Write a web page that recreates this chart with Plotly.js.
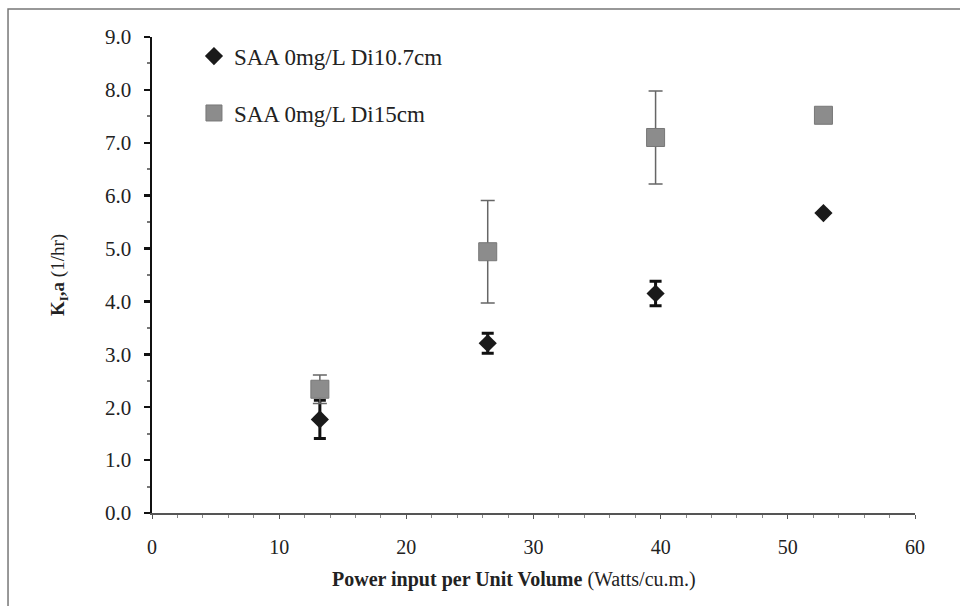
<!DOCTYPE html>
<html>
<head>
<meta charset="utf-8">
<script src="https://cdn.plot.ly/plotly-3.0.1.min.js"></script>
<style>html,body{margin:0;padding:0;background:#fff;}#chart{width:960px;height:606px;}</style>
</head>
<body>
<div id="chart"></div>
<script>
const powerInput = [13.2, 26.4, 39.6, 52.8];
const seriesNames = ["SAA 0mg/L Di10.7cm", "SAA 0mg/L Di15cm"];
const kla107 = [1.77, 3.21, 4.15, 5.67];
const err107 = [0.36, 0.19, 0.23, 0];
const kla15 = [2.34, 4.94, 7.10, 7.52];
const err15 = [0.27, 0.97, 0.88, 0];
const yTicks = [0,1,2,3,4,5,6,7,8,9];
const yTickText = ["0.0","1.0","2.0","3.0","4.0","5.0","6.0","7.0","8.0","9.0"];
const xTitle = "<b>Power input per Unit Volume</b> (Watts/cu.m.)";
const yTitle = "<b>K<sub>I</sub>,a</b> (1/hr)";

const font = "Liberation Serif, Times New Roman, serif";

const traces = [
  {
    x: powerInput, y: kla107, name: seriesNames[0], type: "scatter", mode: "markers",
    legendgroup: "a",
    marker: {symbol: "diamond", size: 14, color: "#1a1a1a", line: {width: 0}},
    error_y: {type: "data", array: err107, visible: true, color: "#111", thickness: 3, width: 6}
  },
  {
    x: powerInput, y: kla15, name: seriesNames[1], type: "scatter", mode: "markers",
    legendgroup: "b",
    marker: {symbol: "square", size: 18, color: "#8c8c8c", line: {width: 1, color: "#777"}},
    error_y: {type: "data", array: err15, visible: true, color: "#666", thickness: 1.5, width: 7}
  }
];

const layout = {
  width: 960, height: 606,
  margin: {l: 152, r: 45, t: 37, b: 93},
  paper_bgcolor: "#fff", plot_bgcolor: "#fff",
  font: {family: font, color: "#222", size: 20},
  showlegend: true,
  legend: {
    x: 0.055, y: 1.005, xanchor: "left", yanchor: "top",
    bgcolor: "rgba(0,0,0,0)", borderwidth: 0,
    traceorder: "grouped", tracegroupgap: 24,
    font: {family: font, size: 23, color: "#222"}
  },
  xaxis: {
    range: [0, 60], tickmode: "linear", tick0: 0, dtick: 10,
    showgrid: false, zeroline: false,
    showline: true, linecolor: "#555", linewidth: 1.5,
    ticks: "outside", ticklen: 4, tickwidth: 1, tickcolor: "#555",
    minor: {dtick: 2, ticks: "outside", ticklen: 3, tickwidth: 1, tickcolor: "#888"},
    tickfont: {family: font, size: 20, color: "#222"},
    ticklabelstandoff: 11
  },
  yaxis: {
    range: [0, 9], tickmode: "array", tickvals: yTicks, ticktext: yTickText,
    showgrid: false, zeroline: false,
    showline: true, linecolor: "#111", linewidth: 2.5,
    ticks: "outside", ticklen: 6, tickwidth: 2.5, tickcolor: "#111",
    minor: {dtick: 0.5, ticks: "outside", ticklen: 3, tickwidth: 2, tickcolor: "#777"},
    tickfont: {family: font, size: 21, color: "#222"},
    ticklabelstandoff: 8,
    title: {text: yTitle, font: {family: font, size: 19, color: "#222"}, standoff: 36}
  },
  annotations: [
    {text: xTitle, xref: "paper", yref: "paper", x: 0.474, y: -0.14, xanchor: "center", yanchor: "middle",
     showarrow: false, font: {family: font, size: 20, color: "#222"}}
  ],
  shapes: [
    {type: "rect", xref: "paper", yref: "paper",
     x0: -0.1887, x1: 1.07, y0: -0.3, y1: 1.0588,
     line: {color: "#777", width: 1.5}, fillcolor: "rgba(0,0,0,0)", layer: "below"}
  ]
};

Plotly.newPlot("chart", traces, layout, {displayModeBar: false, staticPlot: true});
</script>
</body>
</html>
